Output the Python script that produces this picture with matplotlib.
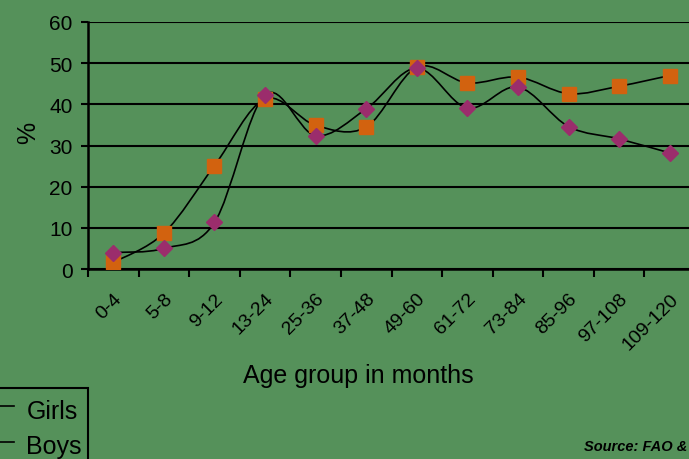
import numpy as np
import matplotlib.pyplot as plt
from matplotlib.path import Path
from matplotlib.patches import PathPatch
from matplotlib.lines import Line2D

plt.rcParams['font.family'] = ['Liberation Sans', 'DejaVu Sans']

# data
age_groups = ['0-4', '5-8', '9-12', '13-24', '25-36', '37-48', '49-60',
              '61-72', '73-84', '85-96', '97-108', '109-120']
girls = [1.6, 8.7, 25.1, 41.3, 34.9, 34.5, 49.0, 45.2, 46.6, 42.6, 44.4, 47.0]
boys = [4.0, 5.0, 11.3, 42.3, 32.4, 38.9, 48.8, 39.1, 44.2, 34.6, 31.6, 28.2]
y_ticks = [0, 10, 20, 30, 40, 50, 60]

bg = '#55915a'
sq_col = '#d2620f'
di_col = '#9b2d6c'


def smooth_path(x, y):
    # excel style smoothed line: catmull-rom segments as cubic bezier
    pts = np.column_stack([x, y]).astype(float)
    p = np.vstack([pts[0], pts, pts[-1]])
    verts = [pts[0]]
    codes = [Path.MOVETO]
    for i in range(1, len(p) - 2):
        c1 = p[i] + (p[i + 1] - p[i - 1]) / 6
        c2 = p[i + 1] - (p[i + 2] - p[i]) / 6
        verts += [c1, c2, p[i + 1]]
        codes += [Path.CURVE4] * 3
    return Path(verts, codes)


fig = plt.figure(figsize=(6.89, 4.60), dpi=100, facecolor=bg)
ax = fig.add_axes([88 / 689, 190 / 460, 607 / 689, 247 / 460])
ax.set_facecolor(bg)

x = np.arange(len(age_groups))
for vals in (girls, boys):
    ax.add_patch(PathPatch(smooth_path(x, vals), fc='none', ec='black', lw=1.2, zorder=3))
ax.plot(x, girls, ls='none', marker='s', ms=9.5, mfc=sq_col, mec=sq_col, zorder=4)
ax.plot(x, boys, ls='none', marker='D', ms=8, mfc=di_col, mec=di_col, zorder=5)

ax.set_xlim(-0.5, len(age_groups) - 0.5)
ax.set_ylim(0, 60)
ax.set_yticks(y_ticks)
ax.set_yticklabels([str(v) for v in y_ticks], fontsize=15)
ax.yaxis.grid(True, color='black', lw=1.5)
ax.set_axisbelow(True)

ax.set_xticks(x)
ax.set_xticklabels(age_groups, fontsize=14, rotation=45, ha='right',
                   rotation_mode='anchor')
ax.set_xticks(np.arange(len(age_groups)) - 0.5, minor=True)
ax.tick_params(axis='x', which='major', length=0, pad=15)
ax.tick_params(axis='x', which='minor', length=6, width=1.5, color='black')
ax.tick_params(axis='y', length=5, width=1.5, pad=6)

for s in ['top', 'right']:
    ax.spines[s].set_visible(False)
for s in ['left', 'bottom']:
    ax.spines[s].set_linewidth(1.8)

fig.text(28 / 689, 1 - 133 / 460, '%', rotation=90, fontsize=18, ha='center', va='center')
fig.text(358 / 689, 1 - 376 / 460, 'Age group in months', fontsize=18, ha='center', va='center')
fig.text(687 / 689, 1 - 447 / 460, 'Source: FAO &', fontsize=10.5, style='italic',
         fontweight='bold', ha='right', va='center')

handles = [Line2D([], [], color='black', lw=1.2, marker='s', ms=9.5, mfc=sq_col, mec=sq_col),
           Line2D([], [], color='black', lw=1.2, marker='D', ms=8, mfc=di_col, mec=di_col)]
leg = fig.legend(handles, ['Girls', 'Boys'], loc='upper right',
                 bbox_to_anchor=(88 / 689, 1 - 389 / 460), fontsize=18,
                 frameon=True, fancybox=False, facecolor=bg, edgecolor='black',
                 framealpha=1, handlelength=2.2, handletextpad=0.5,
                 handleheight=1.5, labelspacing=0.2, borderpad=0.25,
                 borderaxespad=0)
leg.get_frame().set_linewidth(1.5)

fig.savefig('out.png', dpi=100, facecolor=bg)
